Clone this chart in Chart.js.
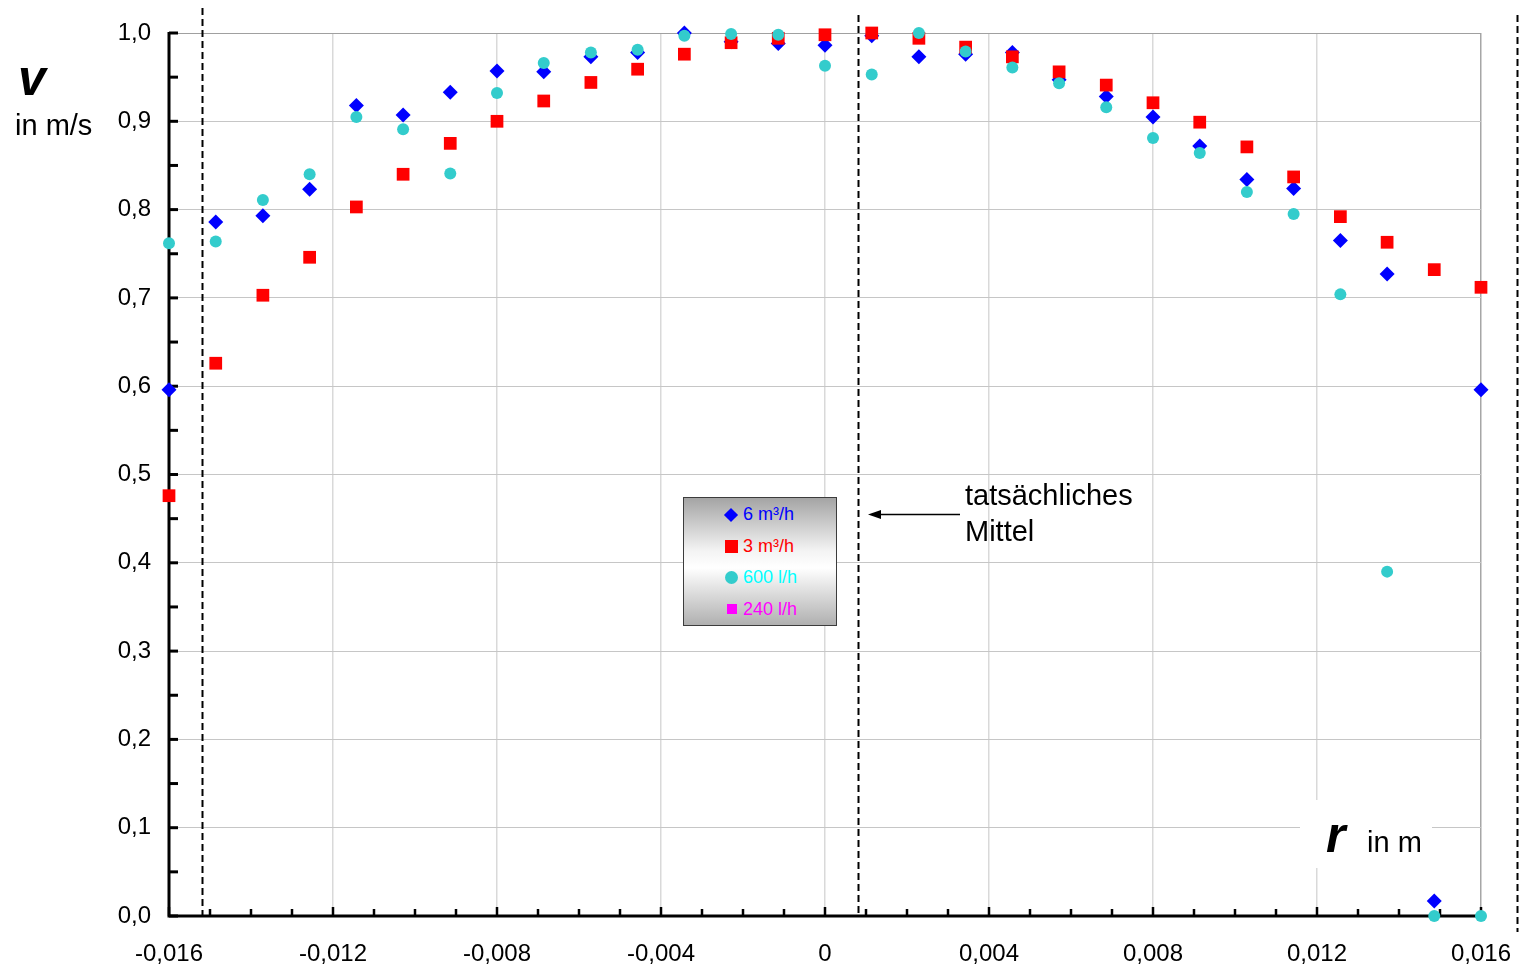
<!DOCTYPE html>
<html>
<head>
<meta charset="utf-8">
<title>Geschwindigkeitsprofil</title>
<script src="https://cdn.jsdelivr.net/npm/chart.js@4.4.1/dist/chart.umd.min.js"></script>
<style>
  body { margin: 0; background: #fff; }
  #wrap { position: relative; width: 1520px; height: 967px; }
  #legend {
    position: absolute; left: 683px; top: 497px; width: 152px; height: 126px;
    border: 1px solid #3c3c3c;
    background: linear-gradient(#a4a4a4, #f4f4f4 42%, #ffffff 55%, #b0b0b0);
    font: 18px "Liberation Sans", Arial, sans-serif;
    padding-top: 1px;
  }
  .row { height: 31.5px; display: flex; align-items: center; padding-left: 40px; }
  .mk { display: inline-block; margin-right: 5px; }
</style>
</head>
<body>
<div id="wrap">
  <canvas id="profil" width="1520" height="967"></canvas>
  <div id="legend"></div>
</div>
<script>
// Messpositionen (Radius in m)
const radius = [-0.016, -0.01486, -0.01371, -0.01257, -0.01143, -0.01029, -0.00914, -0.008,
  -0.00686, -0.00571, -0.00457, -0.00343, -0.00229, -0.00114, 0, 0.00114, 0.00229, 0.00343,
  0.00457, 0.00571, 0.00686, 0.008, 0.00914, 0.01029, 0.01143, 0.01257, 0.01371, 0.01486, 0.016];

// normierte Geschwindigkeit je Volumenstrom
const v6m3 = [0.596, 0.786, 0.793, 0.823, 0.918, 0.907, 0.933, 0.957, 0.956, 0.973, 0.978, 1.0,
  0.990, 0.988, 0.986, 0.997, 0.973, 0.976, 0.978, 0.947, 0.928, 0.905, 0.872, 0.834, 0.824,
  0.765, 0.727, 0.017, 0.596];
const v3m3 = [0.476, 0.626, 0.703, 0.746, 0.803, 0.840, 0.875, 0.900, 0.923, 0.944, 0.959, 0.976,
  0.989, 0.994, 0.998, 1.0, 0.994, 0.984, 0.973, 0.956, 0.941, 0.921, 0.899, 0.871, 0.837,
  0.792, 0.763, 0.732, 0.712];
const v600 = [0.762, 0.764, 0.811, 0.840, 0.905, 0.891, 0.841, 0.932, 0.966, 0.978, 0.981, 0.997,
  0.999, 0.998, 0.963, 0.953, 1.0, 0.979, 0.961, 0.943, 0.916, 0.881, 0.864, 0.820, 0.795,
  0.704, 0.390, 0.0, 0.0];
const v240 = [];

const seriesNames = ['6 m³/h', '3 m³/h', '600 l/h', '240 l/h'];

// Rohrwand und tatsächliche Rohrmitte
const wallPos = [-0.0152, 0.01688];
const meanPos = 0.0008;

const xTicks = [-0.016, -0.012, -0.008, -0.004, 0, 0.004, 0.008, 0.012, 0.016];
const yTicks = [0, 0.1, 0.2, 0.3, 0.4, 0.5, 0.6, 0.7, 0.8, 0.9, 1.0];

function pts(vals) {
  return vals.map((v, i) => ({ x: radius[i], y: v }));
}

const FONT = '"Liberation Sans", Arial, sans-serif';

const deko = {
  id: 'deko',
  beforeDatasetsDraw(chart) {
    const { ctx, chartArea: a, scales: { x, y } } = chart;
    ctx.save();
    // gestrichelte Linien
    ctx.strokeStyle = '#000';
    ctx.lineWidth = 2;
    ctx.setLineDash([7, 4]);
    const dash = (val, top, bot) => {
      const px = Math.round(x.getPixelForValue(val)) + 0.5;
      ctx.beginPath(); ctx.moveTo(px, top); ctx.lineTo(px, bot); ctx.stroke();
    };
    dash(wallPos[0], 8, a.bottom);
    dash(meanPos, 15, a.bottom);
    dash(wallPos[1], 15, 932);
    ctx.setLineDash([]);

    // Achsen
    ctx.lineWidth = 3;
    ctx.beginPath();
    ctx.moveTo(a.left, a.top - 1); ctx.lineTo(a.left, a.bottom);
    ctx.lineTo(a.right, a.bottom);
    ctx.stroke();

    // Teilstriche
    ctx.lineWidth = 2.5;
    for (let k = -16; k <= 16; k++) {
      const px = x.getPixelForValue(k / 1000);
      const len = k % 4 === 0 ? 9 : 7;
      ctx.beginPath(); ctx.moveTo(px, a.bottom); ctx.lineTo(px, a.bottom - len); ctx.stroke();
    }
    ctx.lineWidth = 3;
    for (let k = 0; k <= 20; k++) {
      const py = y.getPixelForValue(k * 0.05);
      ctx.beginPath(); ctx.moveTo(a.left, py); ctx.lineTo(a.left + 9, py); ctx.stroke();
    }
    ctx.restore();
  },
  afterDatasetsDraw(chart) {
    const { ctx } = chart;
    ctx.save();
    ctx.fillStyle = '#000';
    ctx.strokeStyle = '#000';
    ctx.textBaseline = 'alphabetic';
    ctx.textAlign = 'left';

    // y-Achsentitel
    ctx.font = 'italic bold 50px ' + FONT;
    ctx.fillText('v', 18, 95);
    ctx.font = '29px ' + FONT;
    ctx.fillText('in m/s', 15, 135);

    // x-Achsentitel mit weißem Hintergrund
    ctx.fillStyle = '#fff';
    ctx.fillRect(1300, 800, 132, 68);
    ctx.fillStyle = '#000';
    ctx.font = 'italic bold 50px ' + FONT;
    ctx.fillText('r', 1326, 852);
    ctx.font = '29px ' + FONT;
    ctx.fillText('in m', 1367, 852);

    // Hinweis auf die Mitte
    ctx.fillText('tatsächliches', 965, 505);
    ctx.fillText('Mittel', 965, 541);
    ctx.lineWidth = 1.5;
    ctx.beginPath(); ctx.moveTo(960, 514.5); ctx.lineTo(878, 514.5); ctx.stroke();
    ctx.beginPath();
    ctx.moveTo(868, 514.5); ctx.lineTo(881, 510); ctx.lineTo(881, 519); ctx.closePath();
    ctx.fill();
    ctx.restore();
  }
};

const chart = new Chart(document.getElementById('profil'), {
  type: 'scatter',
  data: {
    datasets: [
      { label: seriesNames[0], data: pts(v6m3), pointStyle: 'rectRot', pointRadius: 7.5,
        backgroundColor: '#0000ff', borderColor: '#0000ff', borderWidth: 0, order: 4, clip: false,
        textColor: '#0000ff' },
      { label: seriesNames[1], data: pts(v3m3), pointStyle: 'rect', pointRadius: 9,
        backgroundColor: '#ff0000', borderColor: '#ff0000', borderWidth: 0, order: 3, clip: false,
        textColor: '#ff0000' },
      { label: seriesNames[2], data: pts(v600), pointStyle: 'circle', pointRadius: 6,
        backgroundColor: '#33cccc', borderColor: '#33cccc', borderWidth: 0, order: 2, clip: false,
        textColor: '#00ffff' },
      { label: seriesNames[3], data: pts(v240), pointStyle: 'rect', pointRadius: 6,
        backgroundColor: '#ff00ff', borderColor: '#ff00ff', borderWidth: 0, order: 1, clip: false,
        textColor: '#ff00ff' }
    ]
  },
  options: {
    responsive: false,
    animation: false,
    layout: { padding: { left: 0, top: 33, right: 39, bottom: 0 } },
    plugins: { legend: { display: false }, tooltip: { enabled: false } },
    scales: {
      x: {
        type: 'linear', min: -0.016, max: 0.016,
        afterFit: s => { s.height = 51; s.paddingLeft = 0; s.paddingRight = 0; },
        afterBuildTicks: s => { s.ticks = xTicks.map(v => ({ value: v })); },
        border: { display: false },
        grid: {
          drawTicks: false,
          lineWidth: 1.5,
          color: c => c.tick.value === xTicks[0] ? 'rgba(0,0,0,0)'
            : (c.tick.value === xTicks[xTicks.length - 1] ? '#a6a6a6' : '#d9d9d9')
        },
        ticks: {
          padding: 24, color: '#000', font: { family: FONT, size: 24 },
          maxRotation: 0, autoSkip: false,
          callback: v => Math.abs(v) < 1e-9 ? '0' : v.toFixed(3).replace('.', ',')
        }
      },
      y: {
        type: 'linear', min: 0, max: 1,
        afterFit: s => { s.width = 169; },
        afterBuildTicks: s => { s.ticks = yTicks.map(v => ({ value: v })); },
        border: { display: false },
        grid: {
          drawTicks: false,
          color: c => c.tick.value === 0 ? 'rgba(0,0,0,0)'
            : (c.tick.value === 1 ? '#a0a0a0' : '#c6c6c6')
        },
        ticks: {
          padding: 18, color: '#000', font: { family: FONT, size: 24 },
          callback: v => v.toFixed(1).replace('.', ',')
        }
      }
    }
  },
  plugins: [deko]
});

// Legende im Diagramm
const leg = document.getElementById('legend');
chart.data.datasets.forEach(ds => {
  const row = document.createElement('div');
  row.className = 'row';
  const mk = document.createElement('span');
  mk.className = 'mk';
  const c = ds.backgroundColor;
  if (ds.pointStyle === 'rectRot') {
    mk.style.cssText = `width:10px;height:10px;background:${c};transform:rotate(45deg);margin:0 7px 0 2px;`;
  } else if (ds.pointStyle === 'circle') {
    mk.style.cssText = `width:13px;height:13px;border-radius:50%;background:${c};margin-left:1px;`;
  } else if (ds.data.length) {
    mk.style.cssText = `width:13px;height:13px;background:${c};margin-left:1px;`;
  } else {
    mk.style.cssText = `width:10px;height:10px;background:${c};margin:0 6px 0 3px;`;
  }
  const t = document.createElement('span');
  t.textContent = ds.label;
  t.style.color = ds.textColor;
  row.appendChild(mk);
  row.appendChild(t);
  leg.appendChild(row);
});
</script>
</body>
</html>
